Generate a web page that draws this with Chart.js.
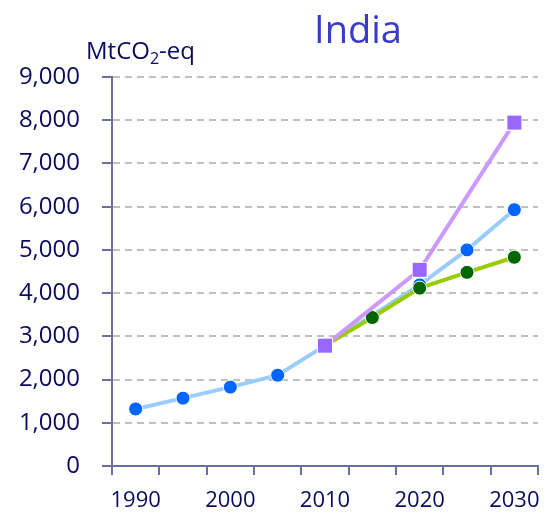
<!DOCTYPE html>
<html>
<head>
<meta charset="utf-8">
<script src="https://cdn.jsdelivr.net/npm/chart.js@4/dist/chart.umd.min.js"></script>
<style>
  html, body { margin: 0; padding: 0; background: #ffffff; }
  #wrap { width: 549px; height: 514px; }
</style>
</head>
<body>
<div id="wrap"><canvas id="c" width="549" height="514"></canvas></div>
<script>
// Years on the category axis (every 5 years; labels shown each decade)
const years = ['1990', '1995', '2000', '2005', '2010', '2015', '2020', '2025', '2030'];

// Emissions, MtCO2-eq
const historicalAndBaseline = [1320, 1570, 1825, 2100, 2785, null, 4190, 5000, 5930];
const highScenario          = [null, null, null, null, 2785, null, 4540, null, 7945];
const lowScenario           = [null, null, null, null, 2785, 3435, 4115, 4480, 4830];

const yTicks = [0, 1000, 2000, 3000, 4000, 5000, 6000, 7000, 8000, 9000];

const FONT = '"Open Sans", "Noto Sans", sans-serif';
const NAVY = '#0a0a5e';
const AXIS = '#6e6e9e';

// Square marker with a thin white outline
const squareMarker = (() => {
  const c = document.createElement('canvas');
  c.width = 16;
  c.height = 16;
  const g = c.getContext('2d');
  g.fillStyle = '#ffffff';
  g.fillRect(0, 0, 16, 16);
  g.fillStyle = '#9966ff';
  g.fillRect(1, 1, 14, 14);
  return c;
})();

// Title and unit label drawn on the canvas
const headings = {
  id: 'headings',
  afterDraw(chart) {
    const ctx = chart.ctx;
    ctx.save();
    ctx.fillStyle = '#3a3acc';
    ctx.font = '38px ' + FONT;
    ctx.textAlign = 'center';
    ctx.textBaseline = 'alphabetic';
    ctx.fillText('India', 358, 43);

    ctx.fillStyle = NAVY;
    ctx.textAlign = 'left';
    ctx.font = '24px ' + FONT;
    let x = 86;
    const base = 59;
    ctx.fillText('MtCO', x, base);
    x += ctx.measureText('MtCO').width;
    ctx.font = '16px ' + FONT;
    ctx.fillText('2', x, base + 5);
    x += ctx.measureText('2').width;
    ctx.font = '24px ' + FONT;
    ctx.fillText('-eq', x, base);
    ctx.restore();
  }
};

new Chart(document.getElementById('c'), {
  type: 'line',
  data: {
    labels: years,
    datasets: [
      {
        label: 'High',
        data: highScenario,
        spanGaps: true,
        borderColor: '#cc99ff',
        borderWidth: 4,
        pointStyle: squareMarker,
        pointRadius: 7,
        tension: 0
      },
      {
        label: 'Low',
        data: lowScenario,
        spanGaps: true,
        borderColor: '#99cc00',
        borderWidth: 4,
        pointStyle: 'circle',
        pointRadius: (c) => (c.dataIndex === 4 ? 0 : 7),
        pointBackgroundColor: '#006600',
        pointBorderColor: '#ffffff',
        pointBorderWidth: 1,
        tension: 0
      },
      {
        label: 'Historical / baseline',
        data: historicalAndBaseline,
        spanGaps: true,
        borderColor: '#99ccff',
        borderWidth: 4,
        pointStyle: 'circle',
        pointRadius: (c) => (c.dataIndex === 4 ? 0 : 7),
        pointBackgroundColor: '#0066ff',
        pointBorderColor: '#ffffff',
        pointBorderWidth: 1,
        tension: 0
      }
    ]
  },
  options: {
    responsive: false,
    animation: false,
    events: [],
    layout: { padding: { top: 77, right: 7, left: 0, bottom: 0 } },
    plugins: {
      legend: { display: false },
      tooltip: { enabled: false },
      title: { display: false }
    },
    scales: {
      x: {
        type: 'category',
        offset: true,
        grid: {
          offset: true,
          drawOnChartArea: false,
          drawTicks: true,
          tickLength: 9,
          color: AXIS,
          lineWidth: 2
        },
        border: { color: AXIS, width: 2 },
        ticks: {
          autoSkip: false,
          maxRotation: 0,
          padding: 13,
          color: NAVY,
          font: { family: FONT, size: 22 },
          callback: (v, i) => (i % 2 === 0 ? years[i] : '')
        },
        afterFit: (s) => { s.height = 48; s.paddingLeft = 0; s.paddingRight = 0; }
      },
      y: {
        min: 0,
        max: 9000,
        afterBuildTicks: (s) => { s.ticks = yTicks.map((v) => ({ value: v })); },
        grid: {
          color: '#c0c0c0',
          lineWidth: 2,
          drawTicks: true,
          tickLength: 10,
          tickColor: AXIS,
          tickWidth: 2,
          tickBorderDash: []
        },
        border: { color: AXIS, width: 2, dash: [7, 5] },
        ticks: {
          padding: 22,
          color: NAVY,
          font: { family: FONT, size: 24 },
          callback: (v) => v.toLocaleString('en-US')
        },
        afterFit: (s) => { s.width = 112; }
      }
    }
  },
  plugins: [headings]
});
</script>
</body>
</html>
